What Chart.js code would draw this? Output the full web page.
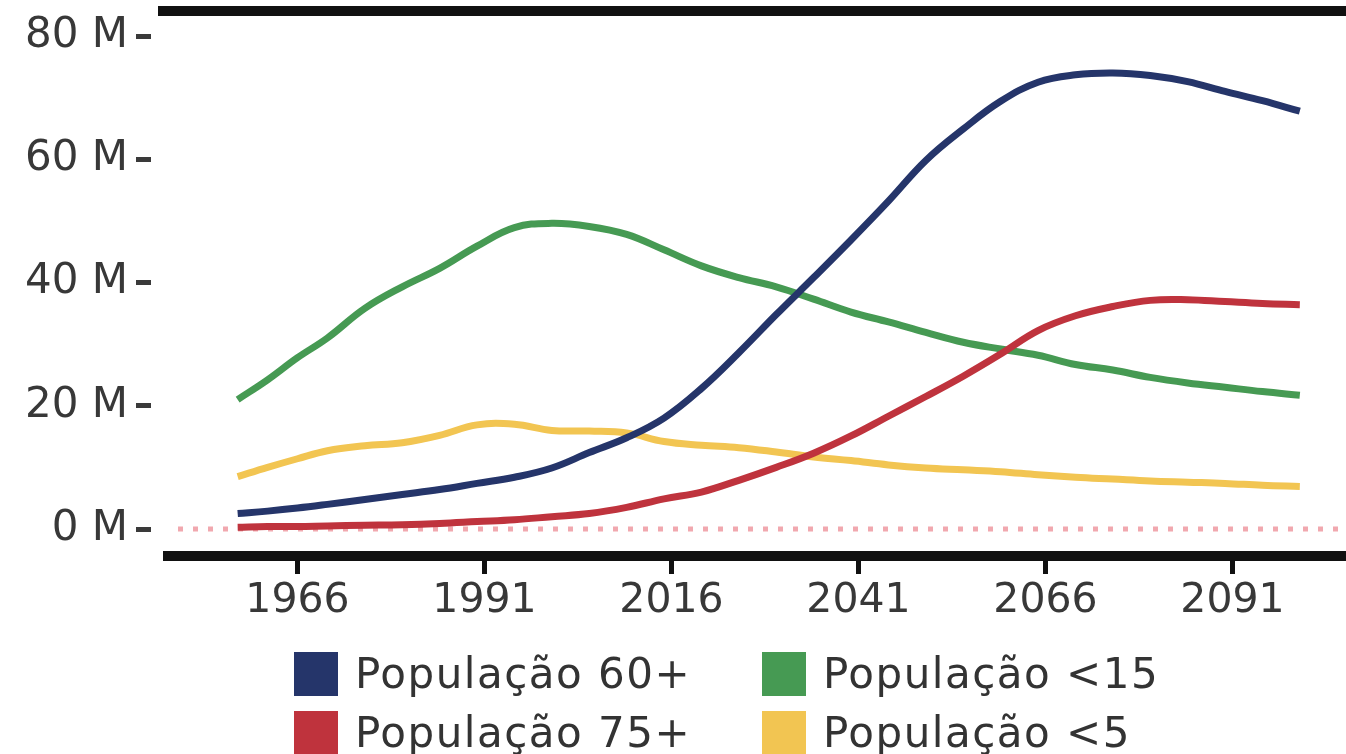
<!DOCTYPE html>
<html>
<head>
<meta charset="utf-8">
<script src="https://cdn.jsdelivr.net/npm/chart.js@4/dist/chart.umd.min.js"></script>
<style>
html,body{margin:0;padding:0;background:#fff;}
#wrap{position:relative;width:1346px;height:754px;overflow:hidden;}
#c{position:absolute;left:0;top:0;}
#legend{position:absolute;left:294px;top:652px;display:grid;grid-auto-flow:column;grid-template-rows:59px 59px;grid-template-columns:468px 420px;font-family:"DejaVu Sans";font-size:42px;color:#333;letter-spacing:1.5px;}
.item{display:flex;align-items:flex-start;}
.box{width:44px;height:44px;flex:none;margin-right:17px;}
.txt{line-height:44px;white-space:nowrap;}
</style>
</head>
<body>
<div id="wrap"><canvas id="c" width="1346" height="754"></canvas><div id="legend"></div></div>
<script>
const years = [1958,1962,1966,1970,1975,1980,1985,1990,1995,2000,2005,2010,2015,2020,2025,2030,2035,2040,2045,2050,2055,2060,2065,2070,2075,2080,2085,2090,2095,2100];
const pop60 = [2.5,2.9,3.4,4.0,4.8,5.6,6.4,7.4,8.4,9.9,12.4,14.8,18.0,22.8,28.6,34.8,40.8,46.9,53.2,59.8,64.9,69.4,72.5,73.7,74.0,73.6,72.6,71.0,69.5,67.8];
const pop75 = [0.3,0.4,0.4,0.5,0.6,0.7,0.9,1.2,1.5,2.0,2.5,3.5,4.9,6.0,7.9,10.0,12.3,15.1,18.3,21.5,24.8,28.4,32.2,34.6,36.1,37.1,37.2,36.9,36.6,36.4];
const popU15 = [21.0,24.2,27.8,31.0,35.8,39.3,42.3,45.9,48.9,49.6,49.1,47.8,45.3,42.7,40.8,39.3,37.3,35.2,33.6,31.9,30.3,29.2,28.2,26.7,25.8,24.6,23.7,23.0,22.3,21.7];
const popU5 = [8.5,10.0,11.4,12.7,13.5,14.0,15.2,16.9,17.0,16.0,15.9,15.6,14.2,13.6,13.2,12.5,11.7,11.1,10.4,9.9,9.6,9.3,8.8,8.4,8.1,7.8,7.6,7.4,7.1,6.9];
const seriesLabels = ['População 60+','População 75+','População <15','População <5'];
const xTickValues = [1966,1991,2016,2041,2066,2091];
const yTickValues = [0,20,40,60,80];

const colors = ['#25356a','#bf333d','#469a53','#f2c552'];
const seriesData = [pop60, pop75, popU15, popU5];

const framePlugin = {
  id: 'frame',
  beforeDatasetsDraw(chart) {
    const {ctx, chartArea, scales} = chart;
    const y0 = scales.y.getPixelForValue(0);
    ctx.save();
    ctx.strokeStyle = 'rgba(232,110,122,0.6)';
    ctx.lineWidth = 5;
    ctx.setLineDash([5, 10]);
    ctx.beginPath();
    ctx.moveTo(chartArea.left + 27, y0);
    ctx.lineTo(chartArea.right, y0);
    ctx.stroke();
    ctx.restore();
  },
  afterDraw(chart) {
    const {ctx, chartArea} = chart;
    ctx.save();
    ctx.strokeStyle = '#111';
    ctx.lineWidth = 10;
    ctx.beginPath();
    ctx.moveTo(chartArea.left + 7, chartArea.top);
    ctx.lineTo(chartArea.right, chartArea.top);
    ctx.stroke();
    ctx.beginPath();
    ctx.moveTo(chartArea.left + 12, chartArea.bottom);
    ctx.lineTo(chartArea.right, chartArea.bottom);
    ctx.stroke();
    ctx.restore();
  }
};

const pxPerM = (529 - 36) / 80;
const chart = new Chart(document.getElementById('c'), {
  type: 'line',
  data: {
    datasets: seriesData.map((arr, i) => ({
      label: seriesLabels[i],
      data: years.map((yr, k) => ({x: yr, y: arr[k]})),
      borderColor: colors[i],
      backgroundColor: colors[i],
      borderWidth: 7,
      pointRadius: 0,
      tension: 0.4,
      fill: false
    }))
  },
  options: {
    responsive: false,
    animation: false,
    devicePixelRatio: 1,
    layout: {padding: {top: 11, left: 0, right: 0, bottom: 128}},
    plugins: {legend: {display: false}, tooltip: {enabled: false}},
    scales: {
      x: {
        type: 'linear',
        min: 1966 - (297.5 - 151) / 7.48,
        max: 1966 + (1346 - 297.5) / 7.48,
        afterBuildTicks: s => { s.ticks = xTickValues.map(v => ({value: v})); },
        afterFit: s => { s.height = 70; s.paddingLeft = 0; s.paddingRight = 0; },
        border: {display: false},
        grid: {drawOnChartArea: false, drawTicks: true, tickLength: 18, lineWidth: 5, color: '#111'},
        ticks: {
          padding: 3, maxRotation: 0, autoSkip: false, color: '#383838',
          font: {family: 'DejaVu Sans', size: 41},
          callback: v => String(v)
        }
      },
      y: {
        type: 'linear',
        min: -(556 - 529) / pxPerM,
        max: 80 + (36 - 11) / pxPerM,
        afterBuildTicks: s => { s.ticks = yTickValues.map(v => ({value: v})); },
        afterFit: s => { s.width = 151; s.paddingTop = 0; s.paddingBottom = 0; },
        border: {display: false},
        grid: {drawOnChartArea: false, drawTicks: true, tickLength: 15, lineWidth: 5, color: '#3a3a3a'},
        ticks: {
          padding: 8, color: '#383838',
          font: {family: 'DejaVu Sans', size: 42},
          callback: v => v + ' M'
        }
      }
    }
  },
  plugins: [framePlugin]
});

const legendEl = document.getElementById('legend');
chart.data.datasets.forEach(ds => {
  const item = document.createElement('div');
  item.className = 'item';
  const box = document.createElement('span');
  box.className = 'box';
  box.style.background = ds.borderColor;
  const txt = document.createElement('span');
  txt.className = 'txt';
  txt.textContent = ds.label;
  item.appendChild(box);
  item.appendChild(txt);
  legendEl.appendChild(item);
});
</script>
</body>
</html>
